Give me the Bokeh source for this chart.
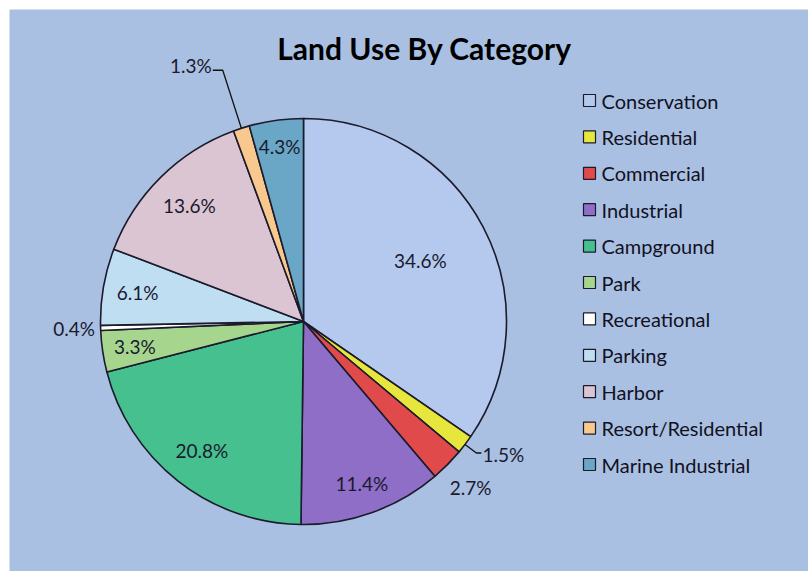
import math
from bokeh.plotting import figure
from bokeh.models import Range1d, ColumnDataSource, Label
from bokeh.core.properties import value
from bokeh.embed import file_html
from bokeh.resources import INLINE

# ---- data ----
categories = ["Conservation", "Residential", "Commercial", "Industrial", "Campground",
              "Park", "Recreational", "Parking", "Harbor", "Resort/Residential",
              "Marine Industrial"]
percentages = [34.6, 1.5, 2.7, 11.4, 20.8, 3.3, 0.4, 6.1, 13.6, 1.3, 4.3]
colors = ["#b5c9ef", "#e6e63c", "#e04a4a", "#8e6ec6", "#46c08e", "#a6d68e",
          "#ffffff", "#c0def2", "#dcc5d3", "#f9c88e", "#6aa6c6"]
title_text = "Land Use By Category"

# ---- layout / style ----
W, H = 808, 571
BORDER = 9
BG = "#a9c0e2"
EDGE = "#1b1b2c"
FONT = "Lato"
CX, CY_PX, R = 303, 321, 203


def ypx(py):
    return H - py


CY = ypx(CY_PX)

# label placement: radial fraction of R; mode 'in' (centered), 'lead*' (leader line)
label_r = [0.65, 1.07, 1.16, 0.85, 0.81, 0.84, 1.13, 0.83, 0.80, 1.30, 0.87]
label_mode = ["in", "leadR", "in", "in", "in", "in", "in", "in", "in", "leadL", "in"]

p = figure(width=W, height=H, x_range=Range1d(BORDER, W), y_range=Range1d(0, H - BORDER),
           min_border_left=BORDER, min_border_top=BORDER, min_border_right=0,
           min_border_bottom=0, x_axis_type=None, y_axis_type=None,
           toolbar_location=None, output_backend="svg",
           background_fill_color=BG, border_fill_color="white")
p.grid.visible = False
p.outline_line_color = None

total = sum(percentages)
starts, ends, mids = [], [], []
cum = 0.0
for v in percentages:
    a0 = cum / total
    cum += v
    a1 = cum / total
    starts.append(math.pi / 2 - 2 * math.pi * a0)
    ends.append(math.pi / 2 - 2 * math.pi * a1)
    mids.append(2 * math.pi * (a0 + a1) / 2)  # clockwise from top

src = ColumnDataSource(dict(start=starts, end=ends, color=colors, cat=categories))
p.wedge(x=CX, y=CY, radius=R, start_angle="start", end_angle="end", direction="clock",
        fill_color="color", line_color=EDGE, line_width=1.6, source=src)

# labels
in_x, in_y, in_t = [], [], []
lead_xs, lead_ys = [], []
outR_x, outR_y, outR_t = [], [], []
outL_x, outL_y, outL_t = [], [], []
for v, th, f, mode in zip(percentages, mids, label_r, label_mode):
    s, c = math.sin(th), math.cos(th)
    txt = f"{v:.1f}%"
    if mode == "in":
        in_x.append(CX + f * R * s)
        in_y.append(CY + f * R * c)
        in_t.append(txt)
    else:
        x0, y0 = CX + R * s, CY + R * c
        x1, y1 = CX + f * R * s, CY + f * R * c
        if mode == "leadR":
            x2 = x1 + 5
            lead_xs.append([x0, x1, x2]); lead_ys.append([y0, y1, y1])
            outR_x.append(x2 + 1); outR_y.append(y1 - 1); outR_t.append(txt)
        else:
            x2 = x1 - 10
            lead_xs.append([x0, x1, x2]); lead_ys.append([y0, y1, y1])
            outL_x.append(x2 - 1); outL_y.append(y1 + 5); outL_t.append(txt)

p.multi_line(xs=lead_xs, ys=lead_ys, line_color="#111111", line_width=1.3)
lab_style = dict(text_font=value(FONT), text_font_size="19px", text_color="#1a1a2e",
                 text_baseline="middle")
p.text(x=in_x, y=in_y, text=in_t, text_align="center", **lab_style)
p.text(x=outR_x, y=outR_y, text=outR_t, text_align="left", **lab_style)
p.text(x=outL_x, y=outL_y, text=outL_t, text_align="right", **lab_style)

# title
p.add_layout(Label(x=424, y=ypx(47), text=title_text, text_font=FONT,
                   text_font_size="30px", text_font_style="bold", text_align="center",
                   text_baseline="middle", text_color="black"))

# legend
leg_y = [ypx(100 + i * 36.4) for i in range(len(categories))]
p.rect(x=[589] * len(categories), y=leg_y, width=12, height=12, fill_color=colors,
       line_color=EDGE, line_width=1.2)
p.text(x=[601] * len(categories), y=leg_y, text=categories, text_font=value(FONT),
       text_font_size="20px", text_color="#111122", text_baseline="middle",
       text_align="left")

open("out.html", "w").write(file_html(p, INLINE))
